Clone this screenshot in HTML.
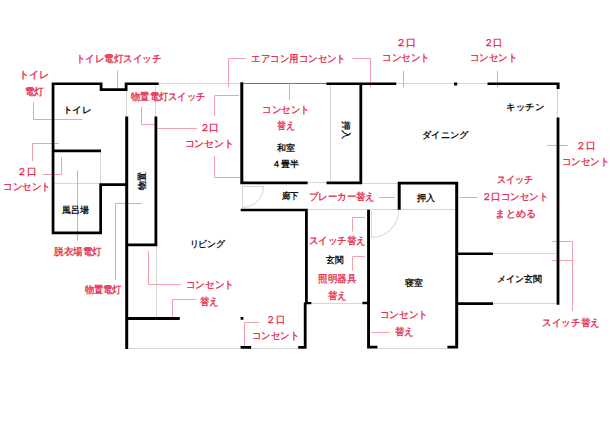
<!DOCTYPE html><html><head><meta charset="utf-8"><style>html,body{margin:0;padding:0;background:#fff;width:610px;height:431px;overflow:hidden}svg{display:block;font-family:"Liberation Sans",sans-serif}</style></head><body>
<svg width="610" height="431" viewBox="0 0 610 431">
<rect width="610" height="431" fill="#fff"/>
<path d="M158.7 83.5L240.3 83.5M396.3 83.5L454 83.5M457.2 83.5L487.5 83.5M126.5 91L126.5 116.5M155.5 85L155.5 116.5M156.5 246.3L156.5 317.1M100.5 152.3L100.5 183.3M54.4 183.5L99.3 183.5M128.2 348.5L240.6 348.5M251.2 348.5L298.2 348.5M377.4 348.5L447.4 348.5M307.6 182.5L326.5 182.5M362.2 183.5L397.7 183.5M330.5 85L330.5 181.5M307.8 209.5L455.2 209.5M311.4 303.5L362.4 303.5M557.5 89L557.5 117.5M493 253.5L556.6 253.5M493 303.5L556.6 303.5M242.5 186.4L242.5 207.7M242.3 186.5L263.6 186.5" stroke="#d6d6d6" stroke-width="1" fill="none"/>
<path d="M263.5 186.5A21 21 0 0 1 242.5 207.5" stroke="#d6d6d6" stroke-width="1" fill="none"/>
<path d="M398.5 210.5A27 27 0 0 1 371.5 237.5V211" stroke="#d6d6d6" stroke-width="1" fill="none"/>
<path d="M243.3 83.5L326.3 83.5" stroke="#777" stroke-width="1" fill="none"/>
<path d="M33.5 102L33.5 119.5L82.7 119.5M117.5 70.6L117.5 88.6M59.1 143.5L32.5 143.5L32.5 161.2M42.4 174.5L61.5 174.5L61.5 157.5M77.5 170.3L77.5 240.5M115.5 280L115.5 203.5L141.6 203.5M141.5 106.5L141.5 124.5L155 124.5M157.5 128.5L197 128.5M239 95.5L214.5 95.5L214.5 116M245.7 58.5L228.5 58.5L228.5 87M289.5 83.5L289.5 100M214.5 155.6L214.5 177.5L239.8 177.5M352.5 58.5L370.5 58.5L370.5 87.5M403.5 70.7L403.5 87.5M497.5 70.7L497.5 87.5M547.4 145.5L567.5 145.5M459.7 197.5L477.6 197.5M379 197.5L394.8 197.5M364.8 217.5L352.5 217.5L352.5 231.5M364.8 256.5L352.5 256.5L352.5 270.7M371.4 332.5L389.5 332.5M552 241.5L572.5 241.5L572.5 311M552 260.5L572.6 260.5M148.5 250.8L148.5 284.5L181 284.5M195.6 299.5L172.5 299.5L172.5 317.1M259.4 322.5L244.5 322.5L244.5 346" stroke="#f2a0ad" stroke-width="1" fill="none"/>
<path d="M52 82.5H102.5V85H52ZM99.7 82.5H102.5V91H99.7ZM99.7 88.2H127.5V91H99.7ZM124.7 82.5H127.5V91H124.7ZM124.7 82.5H158.7V85H124.7ZM51.7 82.5H54.4V234.3H51.7ZM51.7 149.4H101V152.3H51.7ZM99.3 183.3H102V234.3H99.3ZM51.7 231.6H102V234.3H51.7ZM99.3 183.3H127V186H99.3ZM125.2 116.5H128.2V349H125.2ZM154.5 116.5H157.3V246.3H154.5ZM125.2 243.6H157.3V246.3H125.2ZM125.2 317.1H179.8V320.1H125.2ZM240.6 317H243.4V319.7H240.6ZM240.6 346H251.2V348.8H240.6ZM298.2 346H306.6V348.8H298.2ZM303.8 302.5H306.6V348.8H303.8ZM305 209H307.8V304.3H305ZM305 302H311.4V304.3H305ZM240.7 208.7H307.8V211.3H240.7ZM240.3 82.2H243.3V184.3H240.3ZM240.3 181.5H307.6V184.3H240.3ZM326.5 181.5H362.2V184.3H326.5ZM326.3 82.5H396.3V85H326.3ZM359.4 82.5H362.2V184.3H359.4ZM487.5 82.5H559.6V85H487.5ZM556.6 82.5H559.6V89H556.6ZM454 82.5H457.2V85.5H454ZM556.6 117.5H559.4V304.7H556.6ZM397.7 181.7H400.7V209.8H397.7ZM397.7 181.7H457.7V184.6H397.7ZM455.2 181.7H458.2V348.6H455.2ZM367.1 209.8H370V348.6H367.1ZM362.4 301.8H367.1V304.2H362.4ZM367.1 345.8H377.4V348.6H367.1ZM447.4 345.8H458.2V348.6H447.4ZM458 252.5H493V255.1H458ZM458 302.2H493V304.9H458Z" fill="#000"/>
<g fill="#e5264a" stroke="#e5264a" stroke-width="0.3" font-size="10" font-weight="normal" text-anchor="middle" dominant-baseline="central">
<text x="34.0" y="74.4" textLength="30.0" lengthAdjust="spacingAndGlyphs">トイレ</text>
<text x="34.0" y="91.3" textLength="19.0" lengthAdjust="spacingAndGlyphs">電灯</text>
<text x="118.7" y="58.7" textLength="85.4" lengthAdjust="spacingAndGlyphs">トイレ電灯スイッチ</text>
<text x="27.1" y="171.4" textLength="19.6" lengthAdjust="spacingAndGlyphs">２口</text>
<text x="27.1" y="186.9" textLength="47.3" lengthAdjust="spacingAndGlyphs">コンセント</text>
<text x="168.1" y="96.8" textLength="73.8" lengthAdjust="spacingAndGlyphs">物置電灯スイッチ</text>
<text x="209.3" y="127.8" textLength="19.6" lengthAdjust="spacingAndGlyphs">２口</text>
<text x="209.3" y="143.8" textLength="49.6" lengthAdjust="spacingAndGlyphs">コンセント</text>
<text x="298.7" y="58.3" textLength="94.5" lengthAdjust="spacingAndGlyphs">エアコン用コンセント</text>
<text x="286.0" y="109.3" textLength="47.2" lengthAdjust="spacingAndGlyphs">コンセント</text>
<text x="286.0" y="125.8" textLength="17.9" lengthAdjust="spacingAndGlyphs">替え</text>
<text x="406.1" y="42.4" textLength="20.1" lengthAdjust="spacingAndGlyphs">２口</text>
<text x="405.9" y="57.6" textLength="47.4" lengthAdjust="spacingAndGlyphs">コンセント</text>
<text x="493.3" y="42.4" textLength="18.6" lengthAdjust="spacingAndGlyphs">２口</text>
<text x="493.3" y="57.6" textLength="47.4" lengthAdjust="spacingAndGlyphs">コンセント</text>
<text x="585.8" y="145.3" textLength="19.3" lengthAdjust="spacingAndGlyphs">２口</text>
<text x="585.5" y="161.3" textLength="47.7" lengthAdjust="spacingAndGlyphs">コンセント</text>
<text x="514.6" y="179.8" textLength="36.1" lengthAdjust="spacingAndGlyphs">スイッチ</text>
<text x="515.1" y="196.9" textLength="66.5" lengthAdjust="spacingAndGlyphs">２口コンセント</text>
<text x="515.6" y="213.7" textLength="40.3" lengthAdjust="spacingAndGlyphs">まとめる</text>
<text x="341.9" y="196.8" textLength="66.0" lengthAdjust="spacingAndGlyphs">ブレーカー替え</text>
<text x="337.2" y="240.7" textLength="57.0" lengthAdjust="spacingAndGlyphs">スイッチ替え</text>
<text x="337.1" y="278.9" textLength="38.1" lengthAdjust="spacingAndGlyphs">照明器具</text>
<text x="337.3" y="295.5" textLength="19.0" lengthAdjust="spacingAndGlyphs">替え</text>
<text x="403.8" y="314.8" textLength="47.9" lengthAdjust="spacingAndGlyphs">コンセント</text>
<text x="404.0" y="331.8" textLength="19.0" lengthAdjust="spacingAndGlyphs">替え</text>
<text x="571.0" y="322.2" textLength="57.1" lengthAdjust="spacingAndGlyphs">スイッチ替え</text>
<text x="209.7" y="284.3" textLength="48.2" lengthAdjust="spacingAndGlyphs">コンセント</text>
<text x="209.3" y="301.6" textLength="18.6" lengthAdjust="spacingAndGlyphs">替え</text>
<text x="275.6" y="319.5" textLength="18.6" lengthAdjust="spacingAndGlyphs">２口</text>
<text x="275.6" y="335.0" textLength="47.2" lengthAdjust="spacingAndGlyphs">コンセント</text>
<text x="78.0" y="251.4" textLength="47.5" lengthAdjust="spacingAndGlyphs">脱衣場電灯</text>
<text x="103.0" y="289.8" textLength="36.9" lengthAdjust="spacingAndGlyphs">物置電灯</text>
</g>
<g fill="#111" font-size="9" font-weight="bold" text-anchor="middle" dominant-baseline="central">
<text x="77.2" y="110.1" textLength="28.8" lengthAdjust="spacingAndGlyphs">トイレ</text>
<text x="75.7" y="209.5" textLength="26.6" lengthAdjust="spacingAndGlyphs">風呂場</text>
<text x="286.1" y="148.1" textLength="18.1" lengthAdjust="spacingAndGlyphs">和室</text>
<text x="285.6" y="163.7" textLength="26.6" lengthAdjust="spacingAndGlyphs">４畳半</text>
<text x="290.4" y="195.8" textLength="16.9" lengthAdjust="spacingAndGlyphs">廊下</text>
<text x="445.2" y="134.9" textLength="45.8" lengthAdjust="spacingAndGlyphs">ダイニング</text>
<text x="525.2" y="106.6" textLength="37.5" lengthAdjust="spacingAndGlyphs">キッチン</text>
<text x="426.3" y="197.7" textLength="18.0" lengthAdjust="spacingAndGlyphs">押入</text>
<text x="207.2" y="244.1" textLength="35.2" lengthAdjust="spacingAndGlyphs">リビング</text>
<text x="335.0" y="259.9" textLength="17.3" lengthAdjust="spacingAndGlyphs">玄関</text>
<text x="413.9" y="283.1" textLength="17.7" lengthAdjust="spacingAndGlyphs">寝室</text>
<text x="519.8" y="278.6" textLength="44.9" lengthAdjust="spacingAndGlyphs">メイン玄関</text>
<text x="0" y="0" transform="translate(141.5 180.5) rotate(-90)">物置</text>
<text x="0" y="0" transform="translate(346.2 129.5) rotate(90)">押入</text>
</g>
</svg></body></html>
